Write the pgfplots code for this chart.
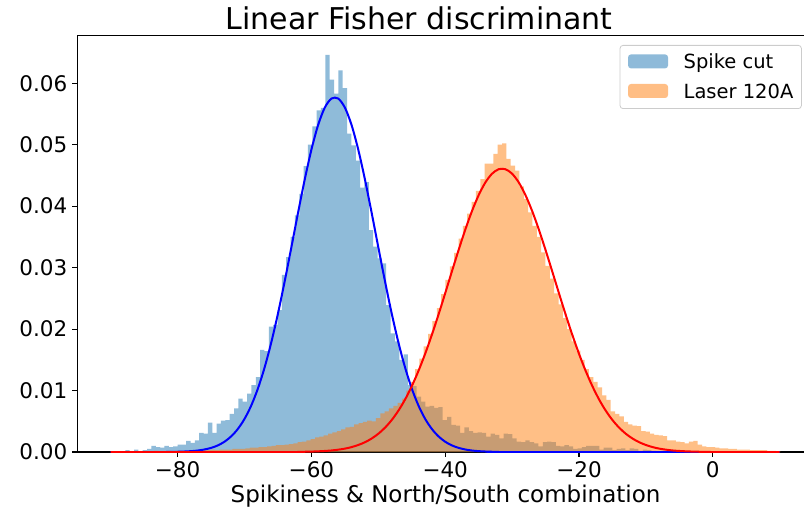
\documentclass[border=0pt]{standalone}
\usepackage{pgfplots}
\usepackage{pgfplotstable}
\pgfplotsset{compat=1.18}
\usepackage{fontspec}
\setmainfont{DejaVu Sans}

\definecolor{c0}{HTML}{1F77B4}
\definecolor{c1}{HTML}{FF7F0E}

% histogram of the spike-cut sample: left bin edge, density
\pgfplotstableread{
x y
-87.82 0.0003
-87.17 0.0000
-86.52 0.0004
-85.87 0.0000
-85.22 0.0003
-84.57 0.0005
-83.92 0.0010
-83.27 0.0008
-82.62 0.0007
-81.97 0.0010
-81.32 0.0008
-80.67 0.0009
-80.02 0.0012
-79.37 0.0012
-78.72 0.0018
-78.07 0.0015
-77.42 0.0019
-76.77 0.0031
-76.12 0.0030
-75.47 0.0048
-74.82 0.0031
-74.17 0.0046
-73.52 0.0051
-72.87 0.0052
-72.22 0.0062
-71.57 0.0071
-70.92 0.0087
-70.27 0.0082
-69.62 0.0095
-68.97 0.0109
-68.32 0.0122
-67.67 0.0166
-67.02 0.0164
-66.37 0.0204
-65.72 0.0207
-65.07 0.0231
-64.42 0.0288
-63.77 0.0317
-63.12 0.0350
-62.47 0.0385
-61.82 0.0420
-61.17 0.0465
-60.52 0.0500
-59.87 0.0530
-59.22 0.0556
-58.57 0.0560
-57.92 0.0646
-57.27 0.0606
-56.62 0.0583
-55.97 0.0621
-55.32 0.0592
-54.67 0.0518
-54.02 0.0499
-53.37 0.0474
-52.72 0.0430
-52.07 0.0439
-51.42 0.0361
-50.77 0.0334
-50.12 0.0315
-49.47 0.0307
-48.82 0.0239
-48.17 0.0193
-47.52 0.0180
-46.87 0.0150
-46.22 0.0159
-45.57 0.0109
-44.92 0.0107
-44.27 0.0090
-43.62 0.0082
-42.97 0.0074
-42.32 0.0075
-41.67 0.0072
-41.02 0.0073
-40.37 0.0052
-39.72 0.0057
-39.07 0.0044
-38.42 0.0043
-37.77 0.0031
-37.12 0.0040
-36.47 0.0034
-35.82 0.0031
-35.17 0.0032
-34.52 0.0031
-33.87 0.0025
-33.22 0.0030
-32.57 0.0028
-31.92 0.0022
-31.27 0.0030
-30.62 0.0029
-29.97 0.0022
-29.32 0.0017
-28.67 0.0016
-28.02 0.0019
-27.37 0.0016
-26.72 0.0014
-26.07 0.0009
-25.42 0.0016
-24.77 0.0017
-24.12 0.0016
-23.47 0.0010
-22.82 0.0009
-22.17 0.0011
-21.52 0.0009
-20.87 0.0005
-20.22 0.0006
-19.57 0.0008
-18.92 0.0010
-18.27 0.0010
-17.62 0.0010
-16.97 0.0004
-16.32 0.0007
-15.67 0.0007
-15.02 0.0003
-14.37 0.0005
-13.72 0.0006
-13.07 0.0003
-12.42 0.0006
-11.77 0.0005
-11.12 0.0002
-10.47 0.0004
-9.82 0.0003
-9.17 0.0002
-8.52 0.0001
-7.87 0.0002
-7.22 0.0002
}\spikecut

% histogram of the 120 A laser sample: left bin edge, density
\pgfplotstableread{
x y
-90.01 0.0001
-89.36 0.0000
-88.71 0.0001
-88.06 0.0000
-87.41 0.0001
-86.76 0.0001
-86.11 0.0000
-85.46 0.0001
-84.81 0.0001
-84.16 0.0001
-83.51 0.0002
-82.86 0.0001
-82.21 0.0001
-81.56 0.0002
-80.91 0.0001
-80.26 0.0002
-79.61 0.0002
-78.96 0.0002
-78.31 0.0003
-77.66 0.0002
-77.01 0.0003
-76.36 0.0003
-75.71 0.0003
-75.06 0.0004
-74.41 0.0003
-73.76 0.0004
-73.11 0.0004
-72.46 0.0004
-71.81 0.0005
-71.16 0.0005
-70.51 0.0005
-69.86 0.0006
-69.21 0.0007
-68.56 0.0007
-67.91 0.0008
-67.26 0.0008
-66.61 0.0009
-65.96 0.0010
-65.31 0.0011
-64.66 0.0011
-64.01 0.0012
-63.36 0.0013
-62.71 0.0014
-62.06 0.0016
-61.41 0.0017
-60.76 0.0019
-60.11 0.0021
-59.46 0.0024
-58.81 0.0025
-58.16 0.0027
-57.51 0.0030
-56.86 0.0032
-56.21 0.0034
-55.56 0.0037
-54.91 0.0040
-54.26 0.0041
-53.61 0.0045
-52.96 0.0047
-52.31 0.0049
-51.66 0.0051
-51.01 0.0050
-50.36 0.0055
-49.71 0.0063
-49.06 0.0066
-48.41 0.0071
-47.76 0.0075
-47.11 0.0080
-46.46 0.0087
-45.81 0.0100
-45.16 0.0114
-44.51 0.0135
-43.86 0.0152
-43.21 0.0172
-42.56 0.0192
-41.91 0.0213
-41.26 0.0234
-40.61 0.0257
-39.96 0.0280
-39.31 0.0302
-38.66 0.0324
-38.01 0.0347
-37.36 0.0368
-36.71 0.0388
-36.06 0.0407
-35.41 0.0425
-34.76 0.0444
-34.11 0.0469
-33.46 0.0469
-32.81 0.0485
-32.16 0.0500
-31.51 0.0502
-30.86 0.0477
-30.21 0.0466
-29.56 0.0458
-28.91 0.0432
-28.26 0.0412
-27.61 0.0390
-26.96 0.0368
-26.31 0.0350
-25.66 0.0325
-25.01 0.0303
-24.36 0.0282
-23.71 0.0258
-23.06 0.0240
-22.41 0.0218
-21.76 0.0200
-21.11 0.0180
-20.46 0.0165
-19.81 0.0150
-19.16 0.0135
-18.51 0.0122
-17.86 0.0114
-17.21 0.0105
-16.56 0.0092
-15.91 0.0085
-15.26 0.0066
-14.61 0.0062
-13.96 0.0058
-13.31 0.0049
-12.66 0.0045
-12.01 0.0043
-11.36 0.0042
-10.71 0.0034
-10.06 0.0033
-9.41 0.0030
-8.76 0.0028
-8.11 0.0027
-7.46 0.0026
-6.81 0.0019
-6.16 0.0019
-5.51 0.0017
-4.86 0.0016
-4.21 0.0014
-3.56 0.0017
-2.91 0.0018
-2.26 0.0012
-1.61 0.0009
-0.96 0.0008
-0.31 0.0008
0.34 0.0007
0.99 0.0006
1.64 0.0006
2.29 0.0005
2.94 0.0005
3.59 0.0004
4.24 0.0004
4.89 0.0004
5.54 0.0003
6.19 0.0003
6.84 0.0003
7.49 0.0003
8.14 0.0002
8.79 0.0002
9.44 0.0001
10.09 0.0001
}\laser

% fitted normal curve, spike cut
\pgfplotstableread{
x y
-90 0
-82 0
-81 0.00002
-80 0.00004
-79 0.00008
-78 0.00014
-77 0.00024
-76 0.00041
-75 0.00067
-74 0.00107
-73 0.00167
-72 0.00254
-71 0.00375
-70 0.00539
-69 0.00756
-68 0.01033
-67 0.01375
-66 0.01784
-65 0.02254
-64 0.02776
-63 0.03330
-62 0.03893
-61 0.04434
-60 0.04920
-59 0.05320
-58 0.05604
-57 0.05751
-56 0.05751
-55 0.05604
-54 0.05320
-53 0.04920
-52 0.04434
-51 0.03893
-50 0.03330
-49 0.02776
-48 0.02254
-47 0.01784
-46 0.01375
-45 0.01033
-44 0.00756
-43 0.00539
-42 0.00375
-41 0.00254
-40 0.00167
-39 0.00107
-38 0.00067
-37 0.00041
-36 0.00024
-35 0.00014
-34 0.00008
-33 0.00004
-32 0.00002
-31 0
10 0
}\spikefit

% fitted normal curve, laser 120 A
\pgfplotstableread{
x y
-90 0
-63 0
-62 0.00002
-61 0.00004
-60 0.00007
-59 0.00011
-58 0.00017
-57 0.00025
-56 0.00038
-55 0.00055
-54 0.00080
-53 0.00114
-52 0.00159
-51 0.00219
-50 0.00297
-49 0.00396
-48 0.00520
-47 0.00672
-46 0.00855
-45 0.01071
-44 0.01319
-43 0.01598
-42 0.01906
-41 0.02237
-40 0.02584
-39 0.02938
-38 0.03286
-37 0.03618
-36 0.03920
-35 0.04179
-34 0.04385
-33 0.04528
-32 0.04601
-31 0.04601
-30 0.04528
-29 0.04385
-28 0.04179
-27 0.03920
-26 0.03618
-25 0.03286
-24 0.02938
-23 0.02584
-22 0.02237
-21 0.01906
-20 0.01598
-19 0.01319
-18 0.01071
-17 0.00855
-16 0.00672
-15 0.00520
-14 0.00396
-13 0.00297
-12 0.00219
-11 0.00159
-10 0.00114
-9 0.00080
-8 0.00055
-7 0.00038
-6 0.00025
-5 0.00017
-4 0.00011
-3 0.00007
-2 0.00004
-1 0.00002
0 0
10 0
}\laserfit

\begin{document}
\begin{tikzpicture}
\begin{axis}[
  scale only axis,
  width=736.5pt, height=416.7pt,
  xmin=-95, xmax=15.1,
  ymin=0, ymax=0.0678,
  scaled y ticks=false,
  axis line style={line width=1.1pt, black},
  tick style={line width=1.1pt, black},
  major tick length=4.9pt,
  tick align=outside,
  tick pos=left,
  xtick={-80,-60,-40,-20,0},
  xticklabels={−80,−60,−40,−20,0},
  ytick={0,0.01,0.02,0.03,0.04,0.05,0.06},
  yticklabels={0.00,0.01,0.02,0.03,0.04,0.05,0.06},
  tick label style={font=\fontsize{21.5}{24}\selectfont, inner sep=0pt},
  xticklabel style={yshift=-4.9pt},
  yticklabel style={xshift=-4.9pt},
  xlabel={Spikiness \& North/South combination},
  xlabel style={font=\fontsize{23}{26}\selectfont, at={(0.5,0)}, anchor=base, yshift=-50pt},
  title={Linear Fisher discriminant},
  every axis title/.style={font=\fontsize{30}{34}\selectfont, at={(0.5,1)}, anchor=base, xshift=-26.5pt, yshift=5.3pt},
  legend cell align=left,
  legend style={
    at={(1,1)}, anchor=north east, xshift=-12pt, yshift=-9.7pt,
    draw=black!20, line width=0.8pt, rounded corners=3pt,
    fill=white, fill opacity=0.8, text opacity=1,
    font=\fontsize{19.5}{22}\selectfont,
    inner xsep=8pt, inner ysep=9pt,
    row sep=14pt, column sep=15.6pt,
    nodes={inner sep=0pt, text height=14.2pt, text depth=1pt},
  },
]
\coordinate (ll) at (rel axis cs:0,0);
\coordinate (ur) at (rel axis cs:1,1);

\addplot[const plot, fill=c0, fill opacity=0.5, draw=none,
  legend image code/.code={\fill[c0, fill opacity=0.5] (0pt,-6pt) rectangle (40pt,8pt);}]
  table {\spikecut} \closedcycle;
\addlegendentry{Spike cut}

\addplot[const plot, fill=c1, fill opacity=0.5, draw=none,
  legend image code/.code={\fill[c1, fill opacity=0.5] (0pt,-6pt) rectangle (40pt,8pt);}]
  table {\laser} \closedcycle;
\addlegendentry{Laser 120A}

\addplot[forget plot, blue, line width=2pt, smooth] table {\spikefit};
\addplot[forget plot, red, line width=2pt, smooth] table {\laserfit};
\end{axis}
\pgfresetboundingbox
\path[use as bounding box] ([xshift=-77.3pt,yshift=-57pt]ll) rectangle ([xshift=-9.8pt,yshift=35.3pt]ur);
\end{tikzpicture}
\end{document}
